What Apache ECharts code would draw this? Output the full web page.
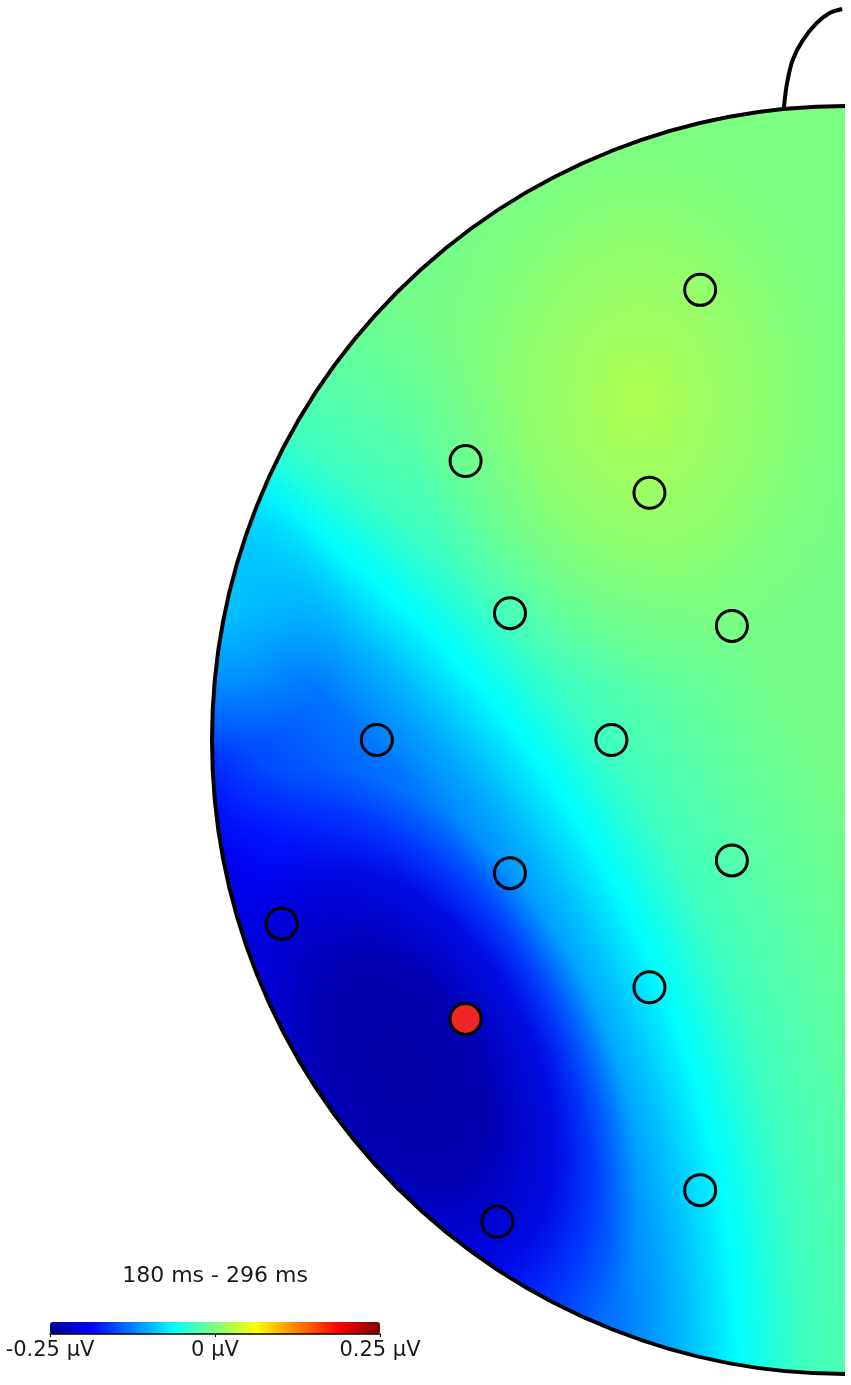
<!DOCTYPE html>
<html>
<head>
<meta charset="utf-8">
<title>topomap 180-296 ms</title>
<script src="https://cdn.jsdelivr.net/npm/echarts@6/dist/echarts.min.js"></script>
<style>
    html, body { margin: 0; padding: 0; background: #fff; }
    #main { width: 851px; height: 1385px; }
</style>
</head>
<body>
<div id="main"></div>
<script>
// electrode positions (head units, nose up, centre at 0,0, radius 1)
var electrodeX = [-0.23, -0.60, -0.31, -0.53, -0.18, -0.74, -0.37, -0.53, -0.18, -0.89, -0.60, -0.31, -0.23, -0.55];
var electrodeY = [0.71, 0.44, 0.39, 0.20, 0.18, 0.0, 0.0, -0.21, -0.19, -0.29, -0.44, -0.39, -0.71, -0.76];
var selectedElectrode = 10;

// left half of the nose
var noseX = [-0.098, -0.093, -0.084, -0.068, -0.046, -0.025, -0.006];
var noseY = [0.997, 1.036, 1.073, 1.104, 1.131, 1.147, 1.153];

// colour scale
var scaleMin = -0.25;
var scaleMax = 0.25;
var colorbarTicks = [-0.25, 0, 0.25];
var jetColors = ['#00008f', '#0000ff', '#007fff', '#00ffff', '#7fff7f', '#ffff00', '#ff7f00', '#ff0000', '#7f0000'];
var timeWindow = '180 ms - 296 ms';

// potential (µV): main gradient, by distance from a point off the lower left
var fieldRadius = [0, 1.104, 1.199, 1.262, 1.341, 1.483, 1.577, 1.672, 1.767, 1.893, 2.05, 2.84];
var fieldValues = [-0.235, -0.225, -0.2, -0.172, -0.15, -0.13, -0.1, -0.0625, -0.033, -0.017, -0.005, 0.0];
// the negative minimum
var dipStops = [0, 0.35, 0.65, 0.85, 1];
var dipValues = [-0.238, -0.232, -0.205, -0.185, -0.17];
// the small positive bump
var peakStops = [0, 0.5, 1];
var peakValues = [0.024, 0.014, 0.004];
// lighter patch at the left rim
var rimStops = [0, 0.5, 1];
var rimValues = [-0.075, -0.085, -0.1];

function hexRgb(h) {
    return [parseInt(h.substr(1, 2), 16), parseInt(h.substr(3, 2), 16), parseInt(h.substr(5, 2), 16)];
}
function jet(v, alpha) {
    var t = (v - scaleMin) / (scaleMax - scaleMin);
    t = Math.max(0, Math.min(1, t)) * (jetColors.length - 1);
    var i = Math.min(Math.floor(t), jetColors.length - 2);
    var f = t - i;
    var a = hexRgb(jetColors[i]), b = hexRgb(jetColors[i + 1]);
    var c = [0, 1, 2].map(function (k) { return Math.round(a[k] + (b[k] - a[k]) * f); });
    return 'rgba(' + c[0] + ',' + c[1] + ',' + c[2] + ',' + (alpha == null ? 1 : alpha) + ')';
}
function stops(pos, vals, fadeFrom, maxAlpha) {
    var m = maxAlpha == null ? 1 : maxAlpha;
    return pos.map(function (p, i) {
        var a = m;
        if (fadeFrom != null && p > fadeFrom) a = m * (1 - (p - fadeFrom) / (1 - fadeFrom));
        return { offset: p, color: jet(vals[i], a) };
    });
}

function blob(center, radius, scaleX, scaleY, rotation, colorStops) {
    return {
        type: 'circle',
        shape: { cx: 0, cy: 0, r: radius },
        x: center[0], y: center[1], scaleX: scaleX, scaleY: scaleY, rotation: rotation,
        style: { fill: { type: 'radial', x: 0.5, y: 0.5, r: 0.5, colorStops: colorStops } }
    };
}

function renderHead(params, api) {
    var c = api.coord([0, 0]);
    var r = api.size([1, 1])[0];
    var far = api.coord([-1.84, -1.01]);
    var farR = fieldRadius[fieldRadius.length - 1];
    return {
        type: 'group',
        children: [
            {
                type: 'circle',
                shape: { cx: c[0], cy: c[1], r: r },
                style: {
                    fill: { type: 'radial', x: far[0], y: far[1], r: farR * r, global: true,
                        colorStops: stops(fieldRadius.map(function (d) { return d / farR; }), fieldValues) }
                }
            },
            blob(api.coord([-0.325, 0.536]), 0.36 * r, 1, 1.3, 0, stops(peakStops, peakValues, 0.3)),
            blob(api.coord([-0.99, 0.22]), 0.2 * r, 1, 1.2, 0, stops(rimStops, rimValues, 0.2, 0.75)),
            blob(api.coord([-0.696, -0.52]), 0.315 * r, 0.52 / 0.315, 1, -62 * Math.PI / 180,
                stops(dipStops, dipValues, 0.6)),
            {
                type: 'ring',
                shape: { cx: c[0], cy: c[1], r: r + 600, r0: r },
                style: { fill: '#fff' }
            },
            {
                type: 'circle',
                shape: { cx: c[0], cy: c[1], r: r },
                style: { fill: 'none', stroke: '#000', lineWidth: 4 }
            }
        ]
    };
}

var electrodes = electrodeX.map(function (x, i) {
    var item = { value: [x, electrodeY[i]] };
    if (i === selectedElectrode) item.itemStyle = { color: '#ee2626' };
    return item;
});

var chart = echarts.init(document.getElementById('main'));
var option = {
    animation: false,
    backgroundColor: '#fff',
    grid: [
        { left: 212, top: 106, width: 634, height: 1268 },
        { left: 50, top: 1322, width: 330, height: 12 }
    ],
    xAxis: [
        { gridIndex: 0, type: 'value', min: -1, max: 0, show: false },
        {
            gridIndex: 1, type: 'value', min: scaleMin, max: scaleMax, interval: 0.25, z: 10,
            axisLine: { show: true, lineStyle: { color: '#000', width: 1.5 } },
            axisTick: { show: true, length: 3, lineStyle: { color: '#000' } },
            splitLine: { show: false },
            axisLabel: {
                margin: 6, color: '#1a1a1a', fontSize: 21, fontFamily: 'DejaVu Sans',
                formatter: function (v) { return v + ' µV'; }
            },
            data: colorbarTicks
        }
    ],
    yAxis: [
        { gridIndex: 0, type: 'value', min: -1, max: 1, show: false },
        { gridIndex: 1, type: 'value', min: 0, max: 1, show: false }
    ],
    visualMap: {
        type: 'continuous',
        min: scaleMin, max: scaleMax,
        orient: 'horizontal',
        left: 50, top: 1322,
        itemWidth: 12, itemHeight: 330,
        padding: 0,
        calculable: false,
        seriesIndex: [],
        inRange: { color: jetColors }
    },
    graphic: [
        {
            type: 'text', x: 215, y: 1276, z: 50,
            style: { text: timeWindow, fill: '#1a1a1a', font: '22px "DejaVu Sans"', align: 'center', verticalAlign: 'middle' }
        },
        { type: 'rect', shape: { x: 845, y: 0, width: 20, height: 1385 }, style: { fill: '#fff' }, z: 50 }
    ],
    series: [
        {
            type: 'custom',
            xAxisIndex: 0, yAxisIndex: 0,
            renderItem: renderHead,
            data: [[0, 0]],
            clip: false,
            silent: true
        },
        {
            type: 'line',
            xAxisIndex: 0, yAxisIndex: 0,
            data: noseX.map(function (x, i) { return [x, noseY[i]]; }),
            smooth: 0.3,
            symbol: 'none',
            clip: false,
            lineStyle: { color: '#000', width: 4 },
            z: 4
        },
        {
            type: 'scatter',
            xAxisIndex: 0, yAxisIndex: 0,
            data: electrodes,
            symbolSize: 31,
            itemStyle: { color: 'rgba(0,0,0,0)', borderColor: '#000', borderWidth: 3, opacity: 1 },
            z: 5
        }
    ]
};
chart.setOption(option);
</script>
</body>
</html>
